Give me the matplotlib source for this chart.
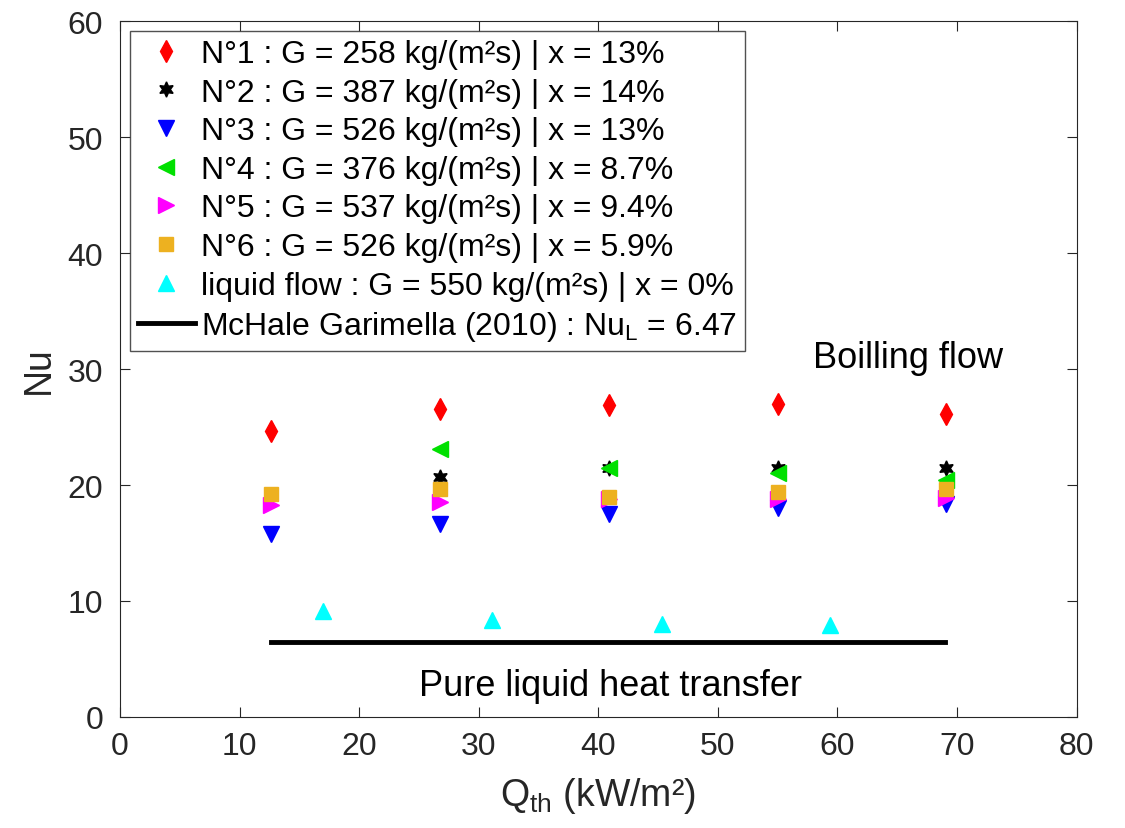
import matplotlib
matplotlib.use("Agg")
import matplotlib.pyplot as plt

plt.rcParams['font.family'] = ['Liberation Sans', 'DejaVu Sans']
plt.rcParams['mathtext.fontset'] = 'custom'
plt.rcParams['mathtext.rm'] = 'Liberation Sans'
plt.rcParams['mathtext.it'] = 'Liberation Sans'

q_boil = [12.6, 26.8, 40.9, 55.0, 69.1]
nu1 = [24.7, 26.6, 26.9, 27.0, 26.1]
q2 = [26.8, 40.9, 55.0, 69.1]
nu2 = [20.7, 21.5, 21.5, 21.5]
nu3 = [15.8, 16.6, 17.5, 18.0, 18.4]
q4 = [26.8, 40.9, 55.0, 69.1]
nu4 = [23.1, 21.5, 21.0, 20.4]
nu5 = [18.3, 18.5, 18.8, 18.8, 18.9]
nu6 = [19.2, 19.7, 19.0, 19.4, 19.65]
q_liq = [17.0, 31.1, 45.3, 59.4]
nu_liq = [9.1, 8.35, 8.0, 7.9]
corr_x = [12.6, 69.0]
nu_L = 6.47

labels = [
    "N°1 : G = 258 kg/(m²s) | x = 13%",
    "N°2 : G = 387 kg/(m²s) | x = 14%",
    "N°3 : G = 526 kg/(m²s) | x = 13%",
    "N°4 : G = 376 kg/(m²s) | x = 8.7%",
    "N°5 : G = 537 kg/(m²s) | x = 9.4%",
    "N°6 : G = 526 kg/(m²s) | x = 5.9%",
    "liquid flow : G = 550 kg/(m²s) | x = 0%",
    "McHale Garimella (2010) : Nu$_\\mathrm{L}$ = 6.47",
]

fig = plt.figure(figsize=(11.25, 8.29), dpi=100)
ax = fig.add_axes([0.1067, 0.134, 0.8503, 0.839])

ms = 11
ax.plot(q_boil, nu1, 'd', color='#ff0000', ms=ms, ls='none', label=labels[0])
ax.plot(q2, nu2, marker=(6, 1, 0), color='black', ms=ms, ls='none', label=labels[1])
ax.plot(q_boil, nu3, 'v', color='#0000ff', ms=ms, ls='none', label=labels[2])
ax.plot(q4, nu4, '<', color='#00e000', ms=ms, ls='none', label=labels[3])
ax.plot(q_boil, nu5, '>', color='#ff00ff', ms=ms, ls='none', label=labels[4])
ax.plot(q_boil, nu6, 's', color='#edb120', ms=9.5, ls='none', label=labels[5])
ax.plot(q_liq, nu_liq, '^', color='#00ffff', ms=ms, ls='none', label=labels[6])
ax.plot(corr_x, [nu_L, nu_L], '-', color='black', lw=3.5, label=labels[7])

ax.set_xlim(0, 80)
ax.set_ylim(0, 60)
ax.set_xticks(range(0, 81, 10))
ax.set_yticks(range(0, 61, 10))
ax.tick_params(direction='in', top=True, right=True, labelsize=23, length=7,
               color='#262626', labelcolor='#262626')
ax.tick_params(axis='y', pad=12)
ax.tick_params(axis='x', pad=10)
for s in ax.spines.values():
    s.set_color('#262626')
ax.set_xlabel("Q$_\\mathrm{th}$ (kW/m²)", fontsize=27, color='#262626', labelpad=10)
ax.set_ylabel("Nu", fontsize=27, color='#262626', labelpad=8)

ax.text(65.9, 31.0, "Boilling flow", fontsize=26, ha='center', va='center')
ax.text(41.0, 2.75, "Pure liquid heat transfer", fontsize=26, ha='center', va='center')

leg = ax.legend(loc='upper left', fontsize=23, frameon=True, fancybox=False,
                edgecolor='#262626', handlelength=1.8, handletextpad=0.2,
                labelspacing=0.27, borderpad=0.25, borderaxespad=0.3)
leg.get_frame().set_linewidth(1.0)

fig.savefig("out.png", dpi=100)
